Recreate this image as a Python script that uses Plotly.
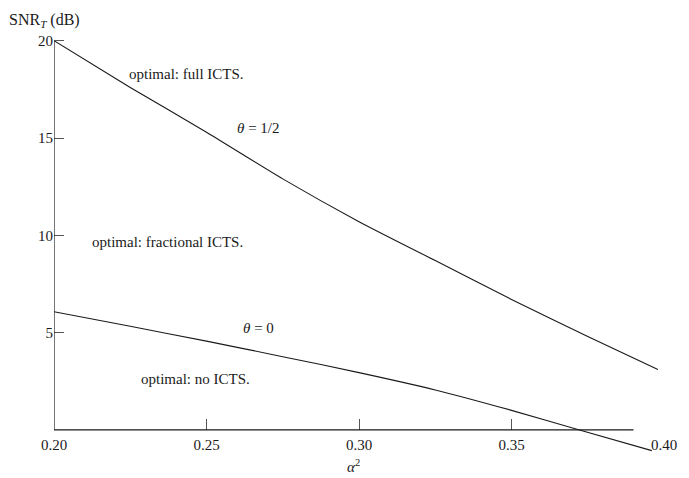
import plotly.graph_objects as go

# data
alpha2_half = [0.200, 0.225, 0.250, 0.275, 0.300, 0.325, 0.350, 0.375, 0.398]
snr_half = [20.0, 17.6, 15.3, 12.9, 10.7, 8.7, 6.7, 4.8, 3.1]

alpha2_zero = [0.200, 0.225, 0.250, 0.275, 0.300, 0.325, 0.350, 0.372, 0.396]
snr_zero = [6.07, 5.32, 4.56, 3.76, 2.94, 2.05, 1.0, 0.0, -1.07]

x_ticks = [0.20, 0.25, 0.30, 0.35, 0.40]
x_ticktext = ["0.20", "0.25", "0.30", "0.35", "0.40"]
y_ticks = [5, 10, 15, 20]
y_ticktext = ["5", "10", "15", "20"]

x_range = [0.2, 0.4]
y_range = [-1.5, 20.5]
x_axis_end = 0.39

region_labels = ["optimal: full ICTS.", "optimal: fractional ICTS.", "optimal: no ICTS."]
region_x = [0.2436, 0.2373, 0.2465]
region_y = [18.3, 9.67, 2.62]
curve_labels = ["<i>θ</i> = 1/2", "<i>θ</i> = 0"]
curve_x = [0.2669, 0.2672]
curve_y = [15.53, 5.24]

FONT = "Liberation Serif, DejaVu Serif, serif"
INK = "#1a1a1a"
OFF = 8  # default page body margin
W, H = 689 - OFF, 478 - OFF
ML, MR, MT, MB = 54 - OFF, 25, 31 - OFF, 19
PW, PH = W - ML - MR, H - MT - MB

fig = go.Figure()
fig.add_trace(go.Scatter(x=alpha2_half, y=snr_half, mode="lines",
                         line=dict(color=INK, width=1.1, shape="spline", smoothing=0.6),
                         showlegend=False))
fig.add_trace(go.Scatter(x=alpha2_zero, y=snr_zero, mode="lines",
                         line=dict(color=INK, width=1.1, shape="spline", smoothing=0.6),
                         showlegend=False))

# axis lines
fig.add_shape(type="line", x0=x_range[0], x1=x_axis_end, y0=0, y1=0,
              xref="x", yref="y", line=dict(color=INK, width=1.2))
fig.add_shape(type="line", x0=x_range[0], x1=x_range[0], y0=0, y1=y_ticks[-1],
              xref="x", yref="y", line=dict(color=INK, width=1.2))

for t, x, y in zip(region_labels, region_x, region_y):
    fig.add_annotation(x=x, y=y, text=t, showarrow=False, xref="x", yref="y",
                       font=dict(family=FONT, size=15, color=INK))
for t, x, y in zip(curve_labels, curve_x, curve_y):
    fig.add_annotation(x=x, y=y, text=t, showarrow=False, xref="x", yref="y",
                       font=dict(family=FONT, size=15, color=INK))

# pixel positions in the figure (window pixel minus page offset)
fig.add_annotation(x=(7 - OFF - ML) / PW, y=1 + (MT - 0.5) / PH, xref="paper", yref="paper",
                   text="SNR<sub><i>T</i></sub> (dB)",
                   showarrow=False, xanchor="left", yanchor="top",
                   font=dict(family=FONT, size=16, color=INK))
fig.add_annotation(x=(353 - OFF - ML) / PW, y=-(MB - 1) / PH, xref="paper", yref="paper",
                   text="<i>α</i><sup>2</sup>", showarrow=False, yanchor="bottom",
                   font=dict(family=FONT, size=15, color=INK))

x_pos = (0 - y_range[0]) / (y_range[1] - y_range[0])

fig.update_layout(
    width=W, height=H,
    margin=dict(l=ML, r=MR, t=MT, b=MB, autoexpand=False),
    paper_bgcolor="white", plot_bgcolor="white",
    font=dict(family=FONT, size=15, color=INK),
    xaxis=dict(range=x_range, tickvals=x_ticks, ticktext=x_ticktext,
               showgrid=False, zeroline=False, showline=False, automargin=False,
               ticks="inside", ticklen=11, tickcolor="#555", tickwidth=1,
               anchor="free", position=x_pos, ticklabelstandoff=4,
               tickfont=dict(family=FONT, size=15, color=INK)),
    yaxis=dict(range=y_range, tickvals=y_ticks, ticktext=y_ticktext,
               showgrid=False, zeroline=False, showline=False, automargin=False,
               ticks="inside", ticklen=10, tickcolor="#555", tickwidth=1,
               tickfont=dict(family=FONT, size=15, color=INK)),
)

fig.write_html("out.html")
